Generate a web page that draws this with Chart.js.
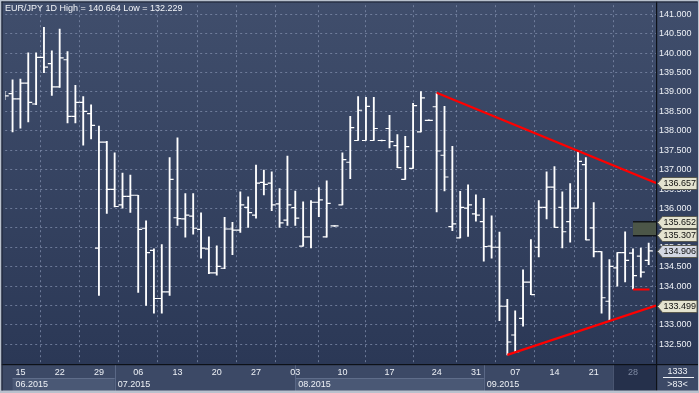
<!DOCTYPE html>
<html><head><meta charset="utf-8">
<script src="https://cdn.jsdelivr.net/npm/chart.js@4.4.1/dist/chart.umd.min.js"></script>
<style>html,body{margin:0;padding:0;background:#34415e;overflow:hidden}#wrap{width:699px;height:393px;position:relative}canvas{display:block}</style>
</head><body><div id="wrap"><canvas id="c" width="699" height="393"></canvas></div>
<script>
const dates = ['2015-06-11','2015-06-12','2015-06-15','2015-06-16','2015-06-17','2015-06-18','2015-06-19','2015-06-22','2015-06-23','2015-06-24','2015-06-25','2015-06-26','2015-06-29','2015-06-30','2015-07-01','2015-07-02','2015-07-03','2015-07-06','2015-07-07','2015-07-08','2015-07-09','2015-07-10','2015-07-13','2015-07-14','2015-07-15','2015-07-16','2015-07-17','2015-07-20','2015-07-21','2015-07-22','2015-07-23','2015-07-24','2015-07-27','2015-07-28','2015-07-29','2015-07-30','2015-07-31','2015-08-03','2015-08-04','2015-08-05','2015-08-06','2015-08-07','2015-08-08','2015-08-10','2015-08-11','2015-08-12','2015-08-13','2015-08-14','2015-08-15','2015-08-17','2015-08-18','2015-08-19','2015-08-20','2015-08-21','2015-08-22','2015-08-24','2015-08-25','2015-08-26','2015-08-27','2015-08-28','2015-08-31','2015-09-01','2015-09-02','2015-09-03','2015-09-04','2015-09-07','2015-09-08','2015-09-09','2015-09-10','2015-09-11','2015-09-14','2015-09-15','2015-09-16','2015-09-17','2015-09-18','2015-09-21','2015-09-22','2015-09-23','2015-09-24','2015-09-25','2015-09-28','2015-09-29','2015-09-30'];
const openV  = [138.88,138.96,138.82,139.23,138.69,139.89,139.73,139.13,139.83,138.37,138.73,138.44,134.98,137.71,136.49,136.09,136.31,136.34,135.49,134.92,133.68,133.85,135.76,135.73,135.80,135.46,134.96,134.34,134.46,135.47,135.44,136.03,135.83,136.67,136.65,136.12,135.70,136.02,135.03,135.27,136.16,135.27,135.55,136.09,137.19,137.75,137.75,137.75,137.75,138.06,137.62,136.75,137.03,137.97,138.27,138.62,137.37,135.53,135.24,136.01,135.86,135.66,135.03,135.00,133.48,132.74,133.17,134.10,135.00,136.03,136.55,136.03,135.66,136.01,137.13,135.50,134.89,133.61,134.47,134.86,134.85,134.77,134.66];
const highV  = [139.02,139.31,139.33,140.01,140.01,140.664,140.06,140.62,140.04,139.17,138.88,138.67,138.12,137.73,137.43,136.91,136.86,136.34,135.68,134.96,135.07,137.31,137.82,136.38,136.38,135.89,135.27,135.04,135.77,135.64,136.43,136.30,137.12,136.99,136.94,136.51,137.35,136.45,136.17,136.20,136.54,136.71,135.56,137.43,138.37,138.88,138.86,138.86,137.76,138.40,137.90,137.86,138.71,139.01,138.28,138.97,138.63,137.60,136.44,136.61,136.35,136.26,135.81,135.39,133.66,133.36,134.42,135.20,136.20,136.94,137.08,136.43,136.64,137.46,137.31,136.15,134.89,134.68,134.86,135.40,134.96,134.98,135.11];
const lowV   = [138.80,137.97,138.07,138.23,138.67,139.50,138.91,139.12,138.20,138.20,137.63,137.79,133.76,135.87,136.04,136.01,135.90,133.84,133.50,133.30,133.30,133.76,135.56,135.26,135.34,134.72,134.32,134.28,134.45,134.81,135.38,135.51,135.75,136.35,135.94,135.51,135.56,135.56,135.03,134.98,135.79,135.26,135.54,136.09,136.77,137.75,137.75,137.75,137.74,137.56,137.05,136.75,137.03,137.97,138.26,135.91,136.45,135.43,135.24,135.28,135.67,134.64,134.72,133.11,132.229,132.31,132.97,133.78,134.75,135.73,135.51,134.98,135.13,136.01,135.19,134.75,133.30,133.12,134.00,134.11,133.93,134.23,134.55];
const closeV = [138.90,138.82,139.23,138.73,139.89,139.64,139.13,139.88,138.37,138.73,138.50,138.14,137.71,136.49,136.05,136.31,136.34,135.46,134.86,133.68,133.85,136.75,135.74,135.83,135.49,134.98,134.34,134.51,135.47,135.44,136.09,135.89,136.65,136.62,136.09,135.63,136.09,135.75,135.27,136.16,136.22,136.13,135.55,137.26,138.08,138.53,138.63,138.06,137.75,137.72,137.05,137.59,138.65,138.85,138.27,137.48,136.81,135.60,136.03,136.09,135.83,135.02,135.00,133.48,132.56,132.31,134.10,133.78,136.03,136.55,135.51,135.40,136.01,137.21,135.19,134.89,133.70,134.51,134.86,134.66,134.27,134.36,134.906];

const yTickValues = [132.5,133.0,133.5,134.0,134.5,135.0,135.5,136.0,136.5,137.0,137.5,138.0,138.5,139.0,139.5,140.0,140.5,141.0];
const xTickDates  = ['2015-06-15','2015-06-22','2015-06-29','2015-07-06','2015-07-13','2015-07-20','2015-07-27','2015-08-03','2015-08-10','2015-08-17','2015-08-24','2015-08-31','2015-09-07','2015-09-14','2015-09-21','2015-09-28'];
const xTickLabels = ['15','22','29','06','13','20','27','03','10','17','24','31','07','14','21','28'];
const monthStartDates = ['2015-06-12','2015-07-01','2015-08-03','2015-09-01'];
const monthLabels = ['06.2015','07.2015','08.2015','09.2015'];

const upperTrendStart = {date:'2015-08-24', value:138.98};
const upperTrendEndValue = 136.657;
const lowerTrendStart = {date:'2015-09-04', value:132.229};
const lowerTrendEndValue = 133.499;
const alertLine = {from:'2015-09-28', to:'2015-09-30', value:133.91};
const zoneBox = {from:'2015-09-28', low:135.307, high:135.652};
const priceTags = [136.657, 135.652, 135.307, 134.906, 133.499];
const priceTagKind = ['line','zone','zone','last','line'];
const titleText = 'EUR/JPY 1D High = 140.664 Low = 132.229';
const cornerTop = '1333';
const cornerBottom = '>83<';

const X_MIN = 0.0635, X_MAX = 82.93;
const Y_MIN = 131.993, Y_MAX = 141.2355;
const FONT = '9px "Liberation Sans", Arial, sans-serif';
const idx = d => dates.indexOf(d);

const hlData = dates.map((d,i)=>({x:i, y:[lowV[i], highV[i]]}));
const openData = dates.map((d,i)=>({x:i-0.254, y:openV[i]}));
const closeData = dates.map((d,i)=>({x:i+0.254, y:closeV[i]}));

const noPad = s => { s.paddingTop = 0; s.paddingBottom = 0; s.paddingLeft = 0; s.paddingRight = 0; };

const decor = {
  id:'decor',
  beforeDraw(chart){
    const {ctx, chartArea:a, width:W, height:H} = chart;
    const xs = chart.scales.x;
    ctx.save();
    let g = ctx.createLinearGradient(0,0,0,a.bottom);
    g.addColorStop(0,'#404e6c'); g.addColorStop(1,'#2b3856');
    ctx.fillStyle = g; ctx.fillRect(0,0,W,a.bottom);
    ctx.fillStyle = '#3c4966'; ctx.fillRect(0,a.bottom,W,H-a.bottom);
    const rowY = a.bottom + 14;
    for (let m=0;m<monthStartDates.length;m++){
      const x0 = xs.getPixelForValue(idx(monthStartDates[m]));
      const x1 = m+1<monthStartDates.length ? xs.getPixelForValue(idx(monthStartDates[m+1])) : xs.getPixelForValue(idx(xTickDates[xTickDates.length-1]))-20;
      if (m%2===0){
        ctx.fillStyle = '#4a5875'; ctx.fillRect(x0, rowY, x1-x0, H-rowY-2);
        ctx.fillStyle = '#5f6d8a'; ctx.fillRect(x0, rowY, x1-x0, 1);
      }
      ctx.fillStyle = '#5a6886';
      if (m>0) ctx.fillRect(Math.round(x0), a.bottom, 1, H-a.bottom-2);
    }
    const cx = xs.getPixelForValue(idx(xTickDates[xTickDates.length-1]))-20;
    ctx.fillStyle = '#25304b'; ctx.fillRect(cx, a.bottom, a.right-cx, H-a.bottom-2);
    ctx.fillStyle = '#4a5672'; ctx.fillRect(cx, a.bottom, 1, H-a.bottom-2);
    ctx.restore();
  },
  beforeDatasetsDraw(chart){
    const {ctx, chartArea:a} = chart;
    const xs = chart.scales.x, ys = chart.scales.y;
    ctx.save();
    const x0 = xs.getPixelForValue(idx(zoneBox.from));
    const yT = ys.getPixelForValue(zoneBox.high), yB = ys.getPixelForValue(zoneBox.low);
    ctx.fillStyle = '#4c5648'; ctx.fillRect(x0, yT, a.right-x0, yB-yT);
    ctx.fillStyle = '#111418'; ctx.fillRect(x0, Math.round(yT)-1, a.right-x0, 1.5); ctx.fillRect(x0, Math.round(yB), a.right-x0, 1.5);
    ctx.restore();
  },
  afterDraw(chart){
    const {ctx, chartArea:a, width:W, height:H} = chart;
    const xs = chart.scales.x, ys = chart.scales.y;
    ctx.save();
    ctx.fillStyle = '#0d1118';
    ctx.fillRect(0, a.bottom, W, 1.2);
    ctx.fillRect(a.right, 0, 1.2, H);
    ctx.font = FONT; ctx.fillStyle = '#f2f4f8'; ctx.textBaseline = 'middle'; ctx.textAlign = 'left';
    ctx.fillText(titleText, 5, 8.5);
    ctx.fillStyle = '#eef1f6';
    for (let m=0;m<monthStartDates.length;m++){
      const x0 = xs.getPixelForValue(idx(monthStartDates[m]));
      ctx.fillText(monthLabels[m], x0+3, a.bottom+20.5);
    }
    ctx.textAlign = 'center';
    const cxm = (a.right + W)/2;
    ctx.fillText(cornerTop, cxm, a.bottom+8);
    ctx.fillRect(a.right+7, a.bottom+13, W-a.right-12, 1);
    ctx.fillText(cornerBottom, cxm, a.bottom+20.5);
    ctx.textAlign = 'left';
    priceTags.forEach((v,k)=>{
      const y = Math.round(ys.getPixelForValue(v)) + 0.5;
      const x0 = a.right + 1.5;
      ctx.beginPath();
      ctx.moveTo(x0, y); ctx.lineTo(x0+5, y-6); ctx.lineTo(W-2, y-6); ctx.lineTo(W-2, y+6); ctx.lineTo(x0+5, y+6); ctx.closePath();
      ctx.fillStyle = priceTagKind[k]==='last' ? '#d3d7e2' : '#e4e3cf';
      ctx.fill();
      ctx.strokeStyle = '#5a5a50'; ctx.lineWidth = 1; ctx.stroke();
      ctx.fillStyle = '#101010';
      ctx.fillText(v.toFixed(3), x0+6, y+0.5);
    });
    ctx.fillStyle = '#b9c1cd';
    ctx.fillRect(0,0,W,1.5); ctx.fillRect(0,0,1.5,H); ctx.fillRect(0,H-2.5,W,2.5); ctx.fillRect(W-1,0,1,H);
    ctx.fillStyle = '#1a2030';
    ctx.fillRect(1.5,1.5,W-3,1); ctx.fillRect(1.5,1.5,1,H-4);
    ctx.restore();
  }
};

new Chart(document.getElementById('c'), {
  type:'bar',
  data:{ datasets:[
    {type:'bar', data:hlData, backgroundColor:'#ffffff', barThickness:1.2, grouped:false, order:3},
    {type:'scatter', data:openData, pointStyle:'line', radius:2, borderColor:'#ffffff', borderWidth:1.2, order:2},
    {type:'scatter', data:closeData, pointStyle:'line', radius:2, borderColor:'#ffffff', borderWidth:1.2, order:2},
    {type:'line', data:[{x:idx(upperTrendStart.date), y:upperTrendStart.value},{x:X_MAX, y:upperTrendEndValue}], borderColor:'#ff0000', borderWidth:2.2, pointRadius:0, order:1},
    {type:'line', data:[{x:idx(lowerTrendStart.date), y:lowerTrendStart.value},{x:X_MAX, y:lowerTrendEndValue}], borderColor:'#ff0000', borderWidth:2.2, pointRadius:0, order:1},
    {type:'line', data:[{x:idx(alertLine.from), y:alertLine.value},{x:idx(alertLine.to)+0.1, y:alertLine.value}], borderColor:'#ff0000', borderWidth:2, pointRadius:0, order:1}
  ]},
  options:{
    responsive:false, animation:false, events:[],
    layout:{padding:{left:3, top:3, right:0, bottom:0}},
    plugins:{legend:{display:false}, tooltip:{enabled:false}, title:{display:false}},
    scales:{
      x:{type:'linear', position:'bottom', min:X_MIN, max:X_MAX, offset:false,
        afterFit:s=>{s.height=29; noPad(s);},
        afterBuildTicks:s=>{s.ticks = xTickDates.map(d=>({value:idx(d)}));},
        grid:{color:'rgba(128,142,172,0.75)', lineWidth:1, drawTicks:false},
        border:{display:false, dash:[2,3]},
        ticks:{autoSkip:false, maxRotation:0, padding:3.5, font:{family:'"Liberation Sans", Arial, sans-serif', size:9},
          color:c=> c.index===xTickDates.length-1 ? '#7f8aa3' : '#eef1f6',
          callback:(v,i)=>xTickLabels[i]}
      },
      y:{type:'linear', position:'right', min:Y_MIN, max:Y_MAX,
        afterFit:s=>{s.width=43; noPad(s);},
        afterBuildTicks:s=>{s.ticks = yTickValues.map(v=>({value:v}));},
        grid:{color:'rgba(128,142,172,0.75)', lineWidth:1, drawTicks:false},
        border:{display:false, dash:[2,3]},
        ticks:{padding:3, font:{family:'"Liberation Sans", Arial, sans-serif', size:9}, color:'#eef1f6',
          callback:v=>Number(v).toFixed(3)}
      }
    }
  },
  plugins:[decor]
});
</script></body></html>
